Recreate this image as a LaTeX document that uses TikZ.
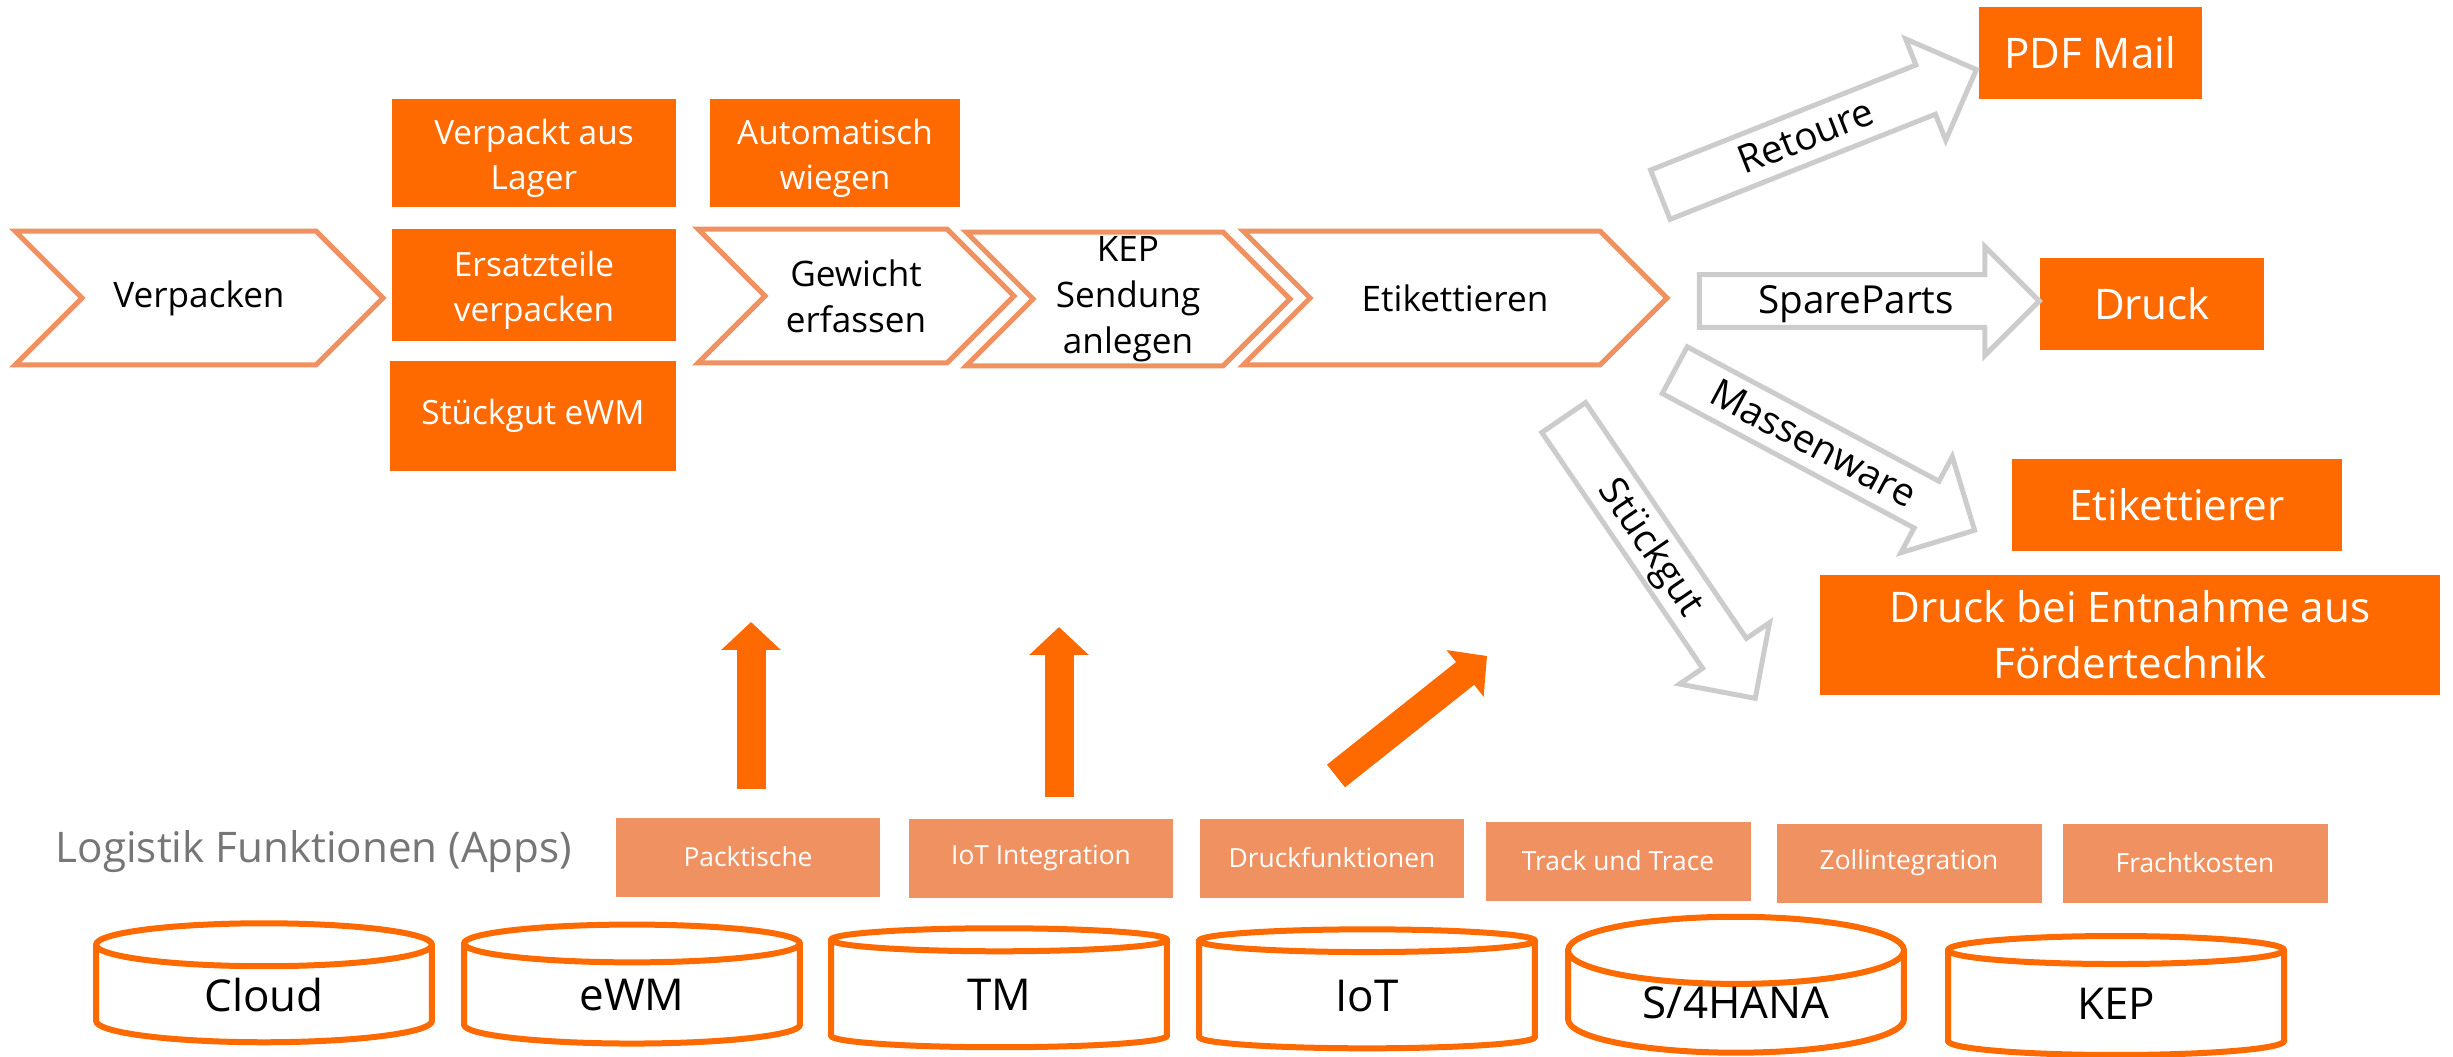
\documentclass[tikz,border=0pt]{standalone}
\usepackage{fontspec}
\setmainfont{Open Sans}
\usetikzlibrary{arrows.meta}
\usetikzlibrary{shapes.symbols,shapes.arrows,shapes.geometric}
\definecolor{brand}{RGB}{255,106,0}
\definecolor{peach}{RGB}{240,145,98}
\definecolor{mist}{RGB}{204,204,204}
\definecolor{slate}{RGB}{118,118,118}
\tikzstyle{stage}=[signal, signal to=east, signal from=west, draw=peach, line width=0.1cm, fill=white, minimum height=2.68cm, inner sep=0pt, align=center, font=\fontsize{20}{26}\selectfont]
\tikzstyle{task}=[rectangle, fill=brand, text=white, inner sep=0pt, align=center, text height=1.63cm, font=\fontsize{19}{25.6}\selectfont]
\tikzstyle{target}=[rectangle, fill=brand, text=white, inner sep=0pt, align=center, minimum height=1.84cm, font=\fontsize{24}{32}\selectfont]
\tikzstyle{app}=[rectangle, fill=peach, text=white, inner sep=0pt, minimum width=5.3cm, minimum height=1.58cm, font=\fontsize{15}{18}\selectfont]
\tikzstyle{store}=[cylinder, shape border rotate=90, draw=brand, line width=0.12cm, fill=white, aspect=0.36, minimum width=6.72cm, minimum height=2.38cm, inner sep=0pt, font=\fontsize{25}{30}\selectfont]
\tikzstyle{route}=[single arrow, draw=mist, line width=0.1cm, fill=white, single arrow head extend=0.56cm, minimum height=6.8cm, inner xsep=0pt, inner ysep=0pt, text height=0.73cm, text depth=0.23cm, font=\fontsize{22}{26}\selectfont]
\tikzstyle{push}=[draw=brand, line width=0.58cm, -{Triangle[width=1.16cm,length=0.56cm]}]

\begin{document}
\begin{tikzpicture}[x=0.02cm, y=-0.02cm]
    \useasboundingbox (0,0) rectangle (2453,1057);

    % process chain
    \node[stage, minimum width=7.36cm] (verpacken) at (199,298) {Verpacken};
    \node[stage, minimum width=6.32cm] (gewicht) at (856,296) {Gewicht\\erfassen};
    \node[stage, minimum width=6.48cm] (sendung) at (1128,299) {KEP\\Sendung\\anlegen};
    \node[stage, minimum width=8.48cm] (etikett) at (1455,298) {Etikettieren};

    % variants
    \node[task, minimum width=5.7cm, minimum height=2.16cm] (lager) at (534,153) {Verpackt aus\\Lager};
    \node[task, minimum width=5.0cm, minimum height=2.16cm] (wiegen) at (835,153) {Automatisch\\wiegen};
    \node[task, minimum width=5.7cm, minimum height=2.24cm] (ersatz) at (534,285) {Ersatzteile\\verpacken};
    \node[task, minimum width=5.74cm, minimum height=2.2cm, text height=0.5cm] (stueck) at (533,416) {Stückgut eWM};

    % outputs
    \node[target, minimum width=4.46cm] (pdf) at (2090,53) {PDF Mail};
    \node[target, minimum width=4.48cm] (druck) at (2152,304) {Druck};
    \node[target, minimum width=6.6cm] (etikettierer) at (2177,505) {Etikettierer};
    \node[target, minimum width=12.4cm, minimum height=2.4cm] (entnahme) at (2130,635) {Druck bei Entnahme aus\\Fördertechnik};

    % routes
    \node[route, rotate=21.6] (retoure) at (1806,137) {Retoure};
    \node[route] (spare) at (1856,301) {SpareParts};
    \node[route, rotate=-28.1] (masse) at (1813,444) {Massenware};
    \node[route, rotate=-55.7] (stueckgut) at (1652,547) {Stückgut};

    % apps
    \node[text=slate, font=\fontsize{24}{28}\selectfont] (apps) at (314,852) {Logistik Funktionen (Apps)};
    \foreach \pos/\name/\label in {{(748,857)/packtische/Packtische}, {(1041,858)/iotapp/IoT Integration},
        {(1332,858)/druckapp/Druckfunktionen}, {(1618,861)/track/Track und Trace},
        {(1909,863)/zoll/Zollintegration}, {(2195,863)/fracht/Frachtkosten}}
        \node[app] (\name) at \pos {\label};

    % systems
    \foreach \pos/\name/\label in {{(264,995)/cloud/Cloud}, {(632,995)/ewm/eWM}, {(999,995)/tm/TM},
        {(1367,996)/iot/IoT}, {(1736,1003)/hana/{S/4HANA}}, {(2116,1004)/kep/KEP}}
        \node[store] (\name) at \pos {\label};

    \coordinate (foot1) at (751,789);
    \coordinate (head1) at (751,622);
    \coordinate (foot2) at (1059,797);
    \coordinate (head2) at (1059,627);
    \coordinate (foot3) at (1336,776);
    \coordinate (head3) at (1487,656);

    \draw[push] (foot1) -- (head1);
    \draw[push] (foot2) -- (head2);
    \draw[push] (foot3) -- (head3);

\end{tikzpicture}
\end{document}
